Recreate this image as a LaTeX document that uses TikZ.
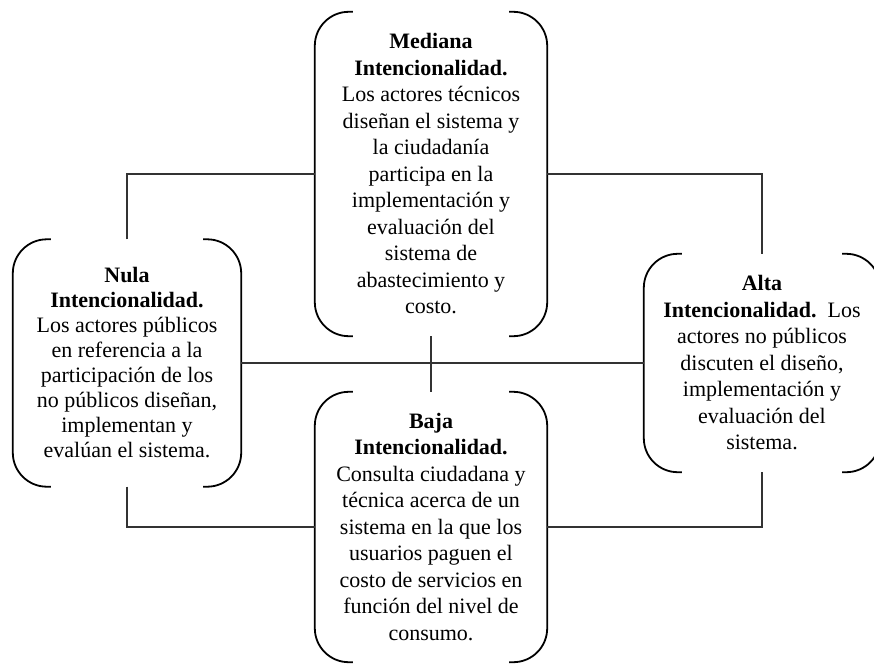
\documentclass[tikz,border=0pt]{standalone}
\usepackage{fontspec}
\setmainfont{Liberation Serif}
\usepackage{tikz}
\usetikzlibrary{calc}
\tikzset{
  boxline/.style={line width=1.8pt, rounded corners=34pt},
  link/.style={line width=1.1pt, black!80},
  level/.style={inner sep=0pt, align=center, font=\fontsize{22}{26.5}\selectfont}
}
\newcommand{\brackbox}[1]{%
  \draw[boxline] ($(#1.north west)+(38,0)$) -- (#1.north west) -- (#1.south west) -- ($(#1.south west)+(38,0)$);
  \draw[boxline] ($(#1.north east)+(-38,0)$) -- (#1.north east) -- (#1.south east) -- ($(#1.south east)+(-38,0)$);
}

\begin{document}
\begin{tikzpicture}[x=1pt,y=-1pt]
	\useasboundingbox (0,0) rectangle (874,663);
	\node[level, minimum width=232pt, minimum height=324pt] (mediana) at (431,174) {\textbf{Mediana}\\\textbf{Intencionalidad.}\\Los actores técnicos\\diseñan el sistema y\\la ciudadanía\\participa en la\\implementación y\\evaluación del\\sistema de\\abastecimiento y\\costo.};
	\node[level, minimum width=232pt, minimum height=270pt] (baja) at (431,527) {\textbf{Baja}\\\textbf{Intencionalidad.}\\Consulta ciudadana y\\técnica acerca de un\\sistema en la que los\\usuarios paguen el\\costo de servicios en\\función del nivel de\\consumo.};
	\node[level, minimum width=228pt, minimum height=247pt, font=\fontsize{22}{25}\selectfont] (nula) at (127,363) {\textbf{Nula}\\\textbf{Intencionalidad.}\\Los actores públicos\\en referencia a la\\participación de los\\no públicos diseñan,\\implementan y\\evalúan el sistema.};
	\node[level, minimum width=236pt, minimum height=218pt] (alta) at (762,363) {\textbf{Alta}\\\textbf{Intencionalidad.}\ \ Los\\actores no públicos\\discuten el diseño,\\implementación y\\evaluación del\\sistema.};
	\brackbox{mediana}
	\brackbox{baja}
	\brackbox{nula}
	\brackbox{alta}
	\draw[link] (nula.north) |- (mediana.west);
	\draw[link] (mediana.east) -| (alta.north);
	\draw[link] (nula.south) |- (baja.west);
	\draw[link] (baja.east) -| (alta.south);
	\draw[link] (nula.east) -- (alta.west);
	\draw[link] (mediana.south) -- (baja.north);
\end{tikzpicture}
\end{document}
